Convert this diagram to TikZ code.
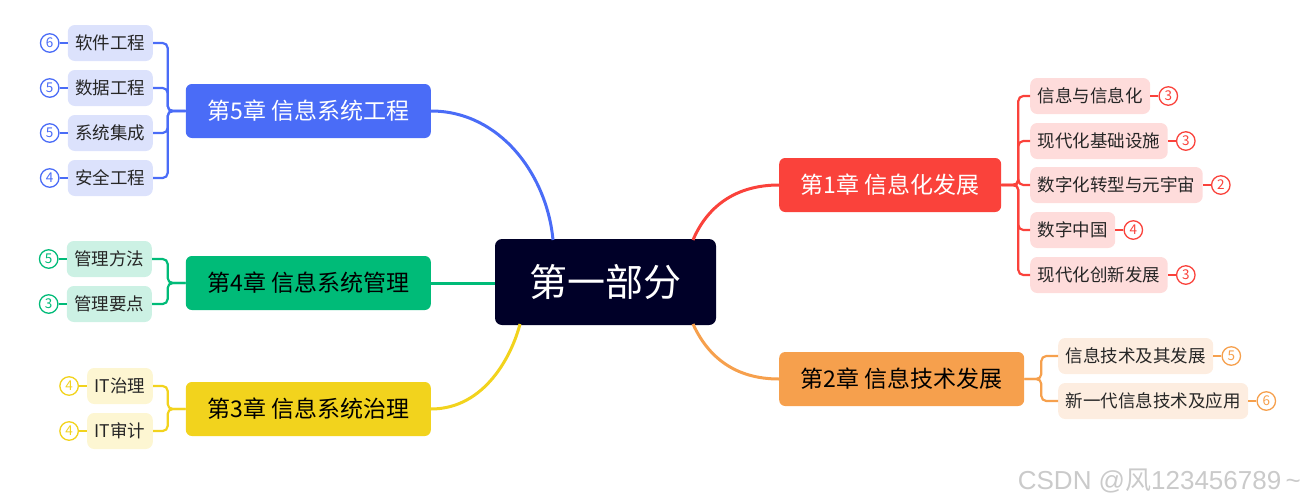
\documentclass[tikz,border=0pt]{standalone}
\usepackage{fontspec}
\setmainfont{Noto Sans CJK SC}
\newfontfamily\wmfont{Liberation Sans}
\usetikzlibrary{positioning}
\definecolor{cblue}{HTML}{4A6CF7}
\definecolor{lblue}{HTML}{DCE2FC}
\definecolor{cgreen}{HTML}{00BB78}
\definecolor{lgreen}{HTML}{CCF1E4}
\definecolor{cyellow}{HTML}{F2D31D}
\definecolor{lyellow}{HTML}{FDF6D2}
\definecolor{cred}{HTML}{FA423B}
\definecolor{lred}{HTML}{FEDCDB}
\definecolor{corange}{HTML}{F6A04D}
\definecolor{lorange}{HTML}{FDEDE0}
\definecolor{croot}{HTML}{000028}
\definecolor{wm}{HTML}{CACACA}
\begin{document}
\begin{tikzpicture}[x=1pt,y=-1pt,
  rootbox/.style={fill=croot,text=white,rounded corners=7pt,minimum width=221pt,minimum height=86pt,font=\fontsize{38}{42}\selectfont,inner sep=0pt},
  chap/.style={fill=#1,rounded corners=6pt,minimum height=54pt,inner xsep=21.5pt,inner ysep=0pt,font=\fontsize{23}{26}\selectfont},
  leaf/.style={fill=#1,rounded corners=7pt,minimum height=36pt,inner xsep=7.5pt,inner ysep=0pt,font=\fontsize{17.5}{20}\selectfont,text=black!85},
  numc/.style={circle,draw=#1,fill=white,text=#1,line width=1.3pt,minimum size=18.5pt,inner sep=0pt,font=\fontsize{13.5}{14}\selectfont},
  main/.style={draw=#1,line width=3pt},
  brk/.style={draw=#1,line width=2.2pt,rounded corners=5pt},
  tick/.style={draw=#1,line width=1.6pt}
]
\path[use as bounding box] (0,0) rectangle (1312,501);

% root
\node[rootbox] (root) at (605.5,282) {第一部分};

% chapters
\node[chap=cblue,text=white,anchor=east] (c5) at (431,111) {第5章 信息系统工程};
\node[chap=cgreen,text=black,anchor=east] (c4) at (431,283) {第4章 信息系统管理};
\node[chap=cyellow,text=black,anchor=east] (c3) at (431,409) {第3章 信息系统治理};
\node[chap=cred,text=white,anchor=west] (c1) at (779,185) {第1章 信息化发展};
\node[chap=corange,text=black,anchor=west] (c2) at (779,379) {第2章 信息技术发展};

% root connectors
\coordinate (r5) at (553,240);
\coordinate (r3) at (520,324);
\coordinate (r1) at (693,240);
\coordinate (r2) at (693,324);
\draw[main=cblue] (c5.east) .. controls (500,111) and (547,175) .. (r5);
\draw[main=cgreen] (c4.east) -- (root.west |- c4.east);
\draw[main=cyellow] (c3.east) .. controls (485,409) and (512,355) .. (r3);
\draw[main=cred] (r1) .. controls (707,207) and (735,185) .. (c1.west);
\draw[main=corange] (r2) .. controls (708,357) and (735,379) .. (c2.west);

% chapter 5 leaves
\node[leaf=lblue,anchor=east] (a1) at (153,43) {软件工程};
\node[leaf=lblue,anchor=east] (a2) at (153,88) {数据工程};
\node[leaf=lblue,anchor=east] (a3) at (153,133) {系统集成};
\node[leaf=lblue,anchor=east] (a4) at (153,178) {安全工程};
\foreach \n/\v in {a1/6,a2/5,a3/5,a4/4}{
  \node[numc=cblue,left=8pt of \n] (\n n) {\v};
  \draw[tick=cblue] (\n n.east) -- (\n.west);
  \draw[brk=cblue] (c5.west) -- ++(-18,0) |- (\n.east);
}

% chapter 4 leaves
\node[leaf=lgreen,anchor=east] (b1) at (152,259) {管理方法};
\node[leaf=lgreen,anchor=east] (b2) at (152,304) {管理要点};
\foreach \n/\v in {b1/5,b2/3}{
  \node[numc=cgreen,left=8pt of \n] (\n n) {\v};
  \draw[tick=cgreen] (\n n.east) -- (\n.west);
  \draw[brk=cgreen] (c4.west) -- ++(-18,0) |- (\n.east);
}

% chapter 3 leaves
\node[leaf=lyellow,anchor=east] (d1) at (153,386) {IT治理};
\node[leaf=lyellow,anchor=east] (d2) at (153,431) {IT审计};
\foreach \n/\v in {d1/4,d2/4}{
  \node[numc=cyellow,left=8pt of \n] (\n n) {\v};
  \draw[tick=cyellow] (\n n.east) -- (\n.west);
  \draw[brk=cyellow] (c3.west) -- ++(-18,0) |- (\n.east);
}

% chapter 1 leaves
\node[leaf=lred,anchor=west] (e1) at (1030,96) {信息与信息化};
\node[leaf=lred,anchor=west] (e2) at (1030,141) {现代化基础设施};
\node[leaf=lred,anchor=west] (e3) at (1030,185) {数字化转型与元宇宙};
\node[leaf=lred,anchor=west] (e4) at (1030,230) {数字中国};
\node[leaf=lred,anchor=west] (e5) at (1030,275) {现代化创新发展};
\foreach \n/\v in {e1/3,e2/3,e3/2,e4/4,e5/3}{
  \node[numc=cred,right=8pt of \n] (\n n) {\v};
  \draw[tick=cred] (\n.east) -- (\n n.west);
  \draw[brk=cred] (c1.east) -- ++(17,0) |- (\n.west);
}

% chapter 2 leaves
\node[leaf=lorange,anchor=west] (f1) at (1058,356) {信息技术及其发展};
\node[leaf=lorange,anchor=west] (f2) at (1058,401) {新一代信息技术及应用};
\foreach \n/\v in {f1/5,f2/6}{
  \node[numc=corange,right=8pt of \n] (\n n) {\v};
  \draw[tick=corange] (\n.east) -- (\n n.west);
  \draw[brk=corange] (c2.east) -- ++(17,0) |- (\n.west);
}

% watermark
\node[anchor=east,text=wm,font=\wmfont\fontsize{26}{28}\selectfont,inner sep=0pt] (wmk) at (1301,481) {CSDN @{\rmfamily 风}123456789\,\string~};
\end{tikzpicture}
\end{document}
